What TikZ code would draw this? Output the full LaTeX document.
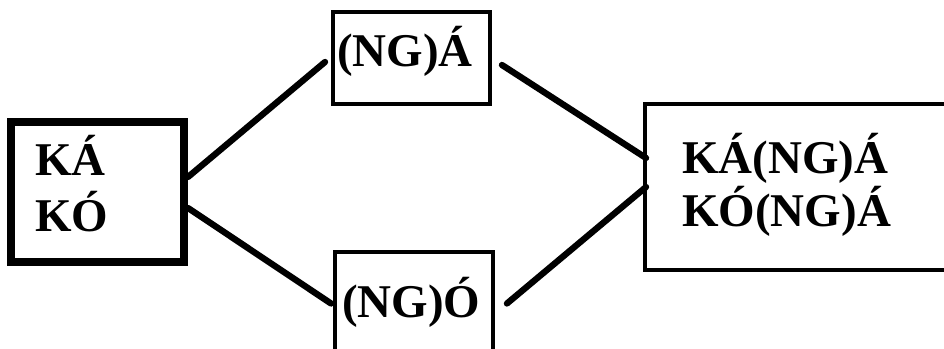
\documentclass[tikz,border=0pt]{standalone}
\usepackage{fontspec}
\setmainfont{Liberation Serif}
\usetikzlibrary{positioning}

\begin{document}
\begin{tikzpicture}[
		box/.style={draw, line width=2.8pt, minimum width=3.925cm, minimum height=2.3cm, inner sep=0pt},
		thickbox/.style={draw, line width=5.7pt, minimum width=4.325cm, minimum height=3.5cm, inner sep=0pt},
		word/.style={inner sep=0pt, align=left, font=\fontsize{33.4}{40.5}\selectfont\bfseries},
		link/.style={line width=4.5pt, line cap=round}
	]
	\useasboundingbox (0,0) rectangle (23.6,8.725);
	\clip (0,0) rectangle (23.6,8.725);
	% boxes
	\node[thickbox] (ka) at (2.4375,3.925) {};
	\node[box] (nga) at (10.2875,7.275) {};
	\node[box, minimum width=3.95cm, minimum height=2.575cm] (ngo) at (10.35,1.1375) {};
	\node[box, minimum width=7.875cm, minimum height=4.15cm] (kang) at (20.0625,4.05) {};
	% texts (base = last line)
	\node[word, anchor=base west] (ka-t) at (0.875,2.925) {KÁ\\KÓ};
	\node[word, anchor=base west] (nga-t) at (8.425,7.05) {(NG)Á};
	\node[word, anchor=base west] (ngo-t) at (8.55,0.775) {(NG)Ó};
	\node[word, anchor=base west, font=\fontsize{33.4}{38.4}\selectfont\bfseries] (kang-t) at (17.05,3.05) {KÁ(NG)Á\\KÓ(NG)Á};
	% links
	\draw[link] ([yshift=0.375cm]ka.east) -- ([xshift=-0.15cm,yshift=-0.1cm]nga.west);
	\draw[link] ([yshift=-0.4cm]ka.east) -- ([xshift=-0.05cm]ngo.west);
	\draw[link] ([xshift=0.25cm,yshift=-0.175cm]nga.east) -- ([xshift=0.075cm,yshift=0.725cm]kang.west);
	\draw[link] ([xshift=0.3cm]ngo.east) -- ([xshift=0.075cm]kang.west);
\end{tikzpicture}
\end{document}
